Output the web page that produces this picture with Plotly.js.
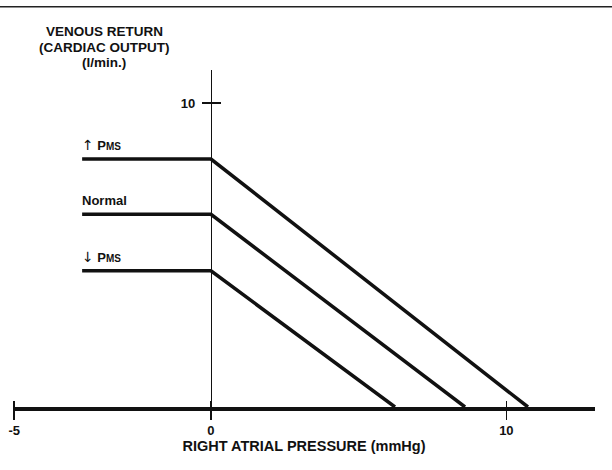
<!DOCTYPE html>
<html>
<head>
<meta charset="utf-8">
<script src="https://cdn.plot.ly/plotly-3.0.1.min.js"></script>
<style>html,body{margin:0;padding:0;background:#fff;}#chart{width:612px;height:470px;}</style>
</head>
<body>
<div id="chart"></div>
<script>
// Right atrial pressure (mmHg) at which each curve starts, bends and meets zero flow
const xUp = [-4.36, 0, 10.73];
const xNormal = [-4.36, 0, 8.60];
const xDown = [-4.36, 0, 6.23];
// Venous return (l/min) values
const yUp = [8.16, 8.16, 0];
const yNormal = [6.34, 6.34, 0];
const yDown = [4.48, 4.48, 0];
const seriesNames = [
  "<span style='font-family:DejaVu Sans;font-size:14px;font-weight:normal'>↑</span> P<span style='font-size:10px'>MS</span>",
  "Normal",
  "<span style='font-family:DejaVu Sans;font-size:14px;font-weight:normal'>↓</span> P<span style='font-size:10px'>MS</span>"
];
// Tick labels (schematic axis: the "-5" mark sits at the left end of the axis)
const xTickVals = [-6.66, 0, 10];
const xTickText = ["-5", "0", "10"];
const yTickVals = [10];
const yTickText = ["10"];
const yTitleLines = ["VENOUS RETURN", "(CARDIAC OUTPUT)", "(l/min.)"];
const xTitle = "RIGHT ATRIAL PRESSURE (mmHg)";

const FONT = "Liberation Sans, Arial, Helvetica, sans-serif";
const lineStyle = {color: "#111", width: 3.5};
const traces = [
  {x: xUp, y: yUp, mode: "lines", line: lineStyle, hoverinfo: "skip"},
  {x: xNormal, y: yNormal, mode: "lines", line: lineStyle, hoverinfo: "skip"},
  {x: xDown, y: yDown, mode: "lines", line: lineStyle, hoverinfo: "skip"},
  {x: [], y: [], xaxis: "x2", yaxis: "y2", mode: "lines", hoverinfo: "skip"}
];
const xr = [-6.7, 13.0], yr = [0, 11.09];
const yPos = (0 - xr[0]) / (xr[1] - xr[0]);

const annotations = [];
const labelX = [xUp[0], xNormal[0], xDown[0]];
const labelY = [yUp[0], yNormal[0], yDown[0]];
seriesNames.forEach((t, i) => annotations.push({
  x: labelX[i], y: labelY[i], xref: "x", yref: "y", text: "<b>" + t + "</b>",
  showarrow: false, xanchor: "left", yanchor: "bottom", yshift: 4, xshift: -2,
  font: {family: FONT, size: 13, color: "#111"}
}));
const titleY = [1.1145, 1.068, 1.0215];
yTitleLines.forEach((t, i) => annotations.push({
  x: 0.157, y: titleY[i], xref: "paper", yref: "paper", text: "<b>" + t + "</b>",
  showarrow: false, xanchor: "center", yanchor: "middle",
  font: {family: FONT, size: 13.5, color: "#111"}
}));

const layout = {
  width: 612, height: 470,
  margin: {l: 13, r: 17, t: 70, b: 63},
  paper_bgcolor: "#fff", plot_bgcolor: "#fff",
  showlegend: false,
  font: {family: FONT, color: "#111"},
  xaxis: {
    range: xr, showgrid: false, zeroline: false,
    showline: true, linecolor: "#111", linewidth: 3.5,
    ticks: "outside", ticklen: 9, tickwidth: 1.5, tickcolor: "#111",
    tickmode: "array", tickvals: xTickVals, ticktext: xTickText.map(t => "<b>" + t + "</b>"),
    tickfont: {family: FONT, size: 13, color: "#111"},
    title: {text: "<b>" + xTitle + "</b>", font: {family: FONT, size: 14.5, color: "#111"}, standoff: 5}
  },
  yaxis: {
    range: yr, showgrid: false, zeroline: false,
    anchor: "free", position: yPos,
    showline: true, linecolor: "#111", linewidth: 1.5,
    ticks: "outside", ticklen: 9, tickwidth: 1.5, tickcolor: "#111",
    tickmode: "array", tickvals: yTickVals, ticktext: yTickText.map(t => "<b>" + t + "</b>"),
    tickfont: {family: FONT, size: 13, color: "#111"}, ticklabelstandoff: 4
  },
  xaxis2: {
    range: xr, overlaying: "x", anchor: "y2", side: "bottom",
    showgrid: false, zeroline: false, showline: false, showticklabels: false,
    ticks: "inside", ticklen: 6, tickwidth: 1.5, tickcolor: "#111",
    tickmode: "array", tickvals: xTickVals
  },
  yaxis2: {
    range: yr, overlaying: "y", anchor: "free", position: yPos, side: "left",
    showgrid: false, zeroline: false, showline: false, showticklabels: false,
    ticks: "inside", ticklen: 9, tickwidth: 1.5, tickcolor: "#111",
    tickmode: "array", tickvals: yTickVals
  },
  shapes: [{type: "line", xref: "paper", yref: "paper", x0: -0.03, x1: 1.04, y0: 1.188, y1: 1.188,
            line: {color: "#222", width: 1.5}}],
  annotations: annotations
};
Plotly.newPlot("chart", traces, layout, {staticPlot: true, displayModeBar: false});
</script>
</body>
</html>
